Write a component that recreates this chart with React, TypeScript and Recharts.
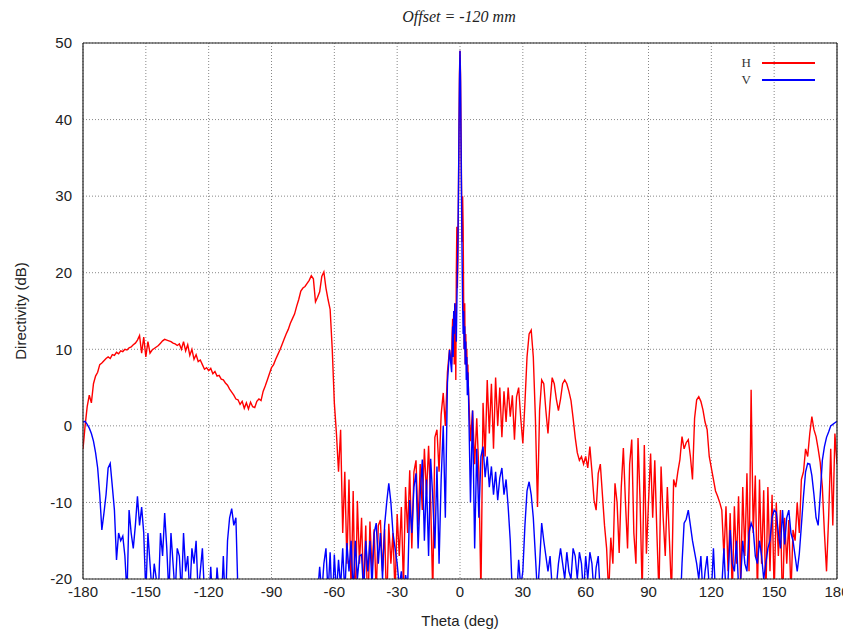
import React from 'react';
import { LineChart, Line, XAxis, YAxis, CartesianGrid, Legend } from 'recharts';

// ---------- data ----------
const range = (a: number, b: number) => {
  const out: number[] = [];
  for (let t = a; t <= b; t++) out.push(t);
  return out;
};
const THETA_LEFT = range(-180, -4);
const THETA_CENTER = [
  -3.75, -3.5, -3.25, -3, -2.75, -2.5, -2.25, -2, -1.75, -1.5, -1.25, -1, -0.75, -0.5, -0.25, 0,
  0.25, 0.5, 0.75, 1, 1.25, 1.5, 1.75, 2, 2.25, 2.5, 2.75, 3, 3.25, 3.5, 3.75,
];
const THETA_RIGHT = range(4, 180);

// H (red), theta -180..-4
const H_LEFT = [
  -3, 0, 2.5, 4, 3, 5.5, 6.5, 7, 8, 8.2,
  8.5, 8.8, 9, 8.8, 9.3, 9.2, 9.6, 9.4, 9.8, 9.7,
  10, 9.9, 10.2, 10.3, 10.6, 10.8, 11.2, 11.8, 9.5, 11.6,
  9, 11, 9.5, 9.9, 10.1, 10.3, 10.5, 10.8, 11.1, 11.3,
  11.2, 11.1, 11, 10.8, 10.7, 10.5, 10.7, 10, 11, 9.8,
  10.6, 9.2, 10, 8.7, 9.3, 8.4, 8.6, 8, 7.4, 7.6,
  7.2, 7.5, 6.8, 7.1, 6.5, 6.6, 6.1, 6, 5.6, 5.3,
  4.8, 4.4, 4, 3.5, 3.4, 2.8, 3.2, 2.3, 3, 2.2,
  3.1, 2.5, 2.4, 3.2, 3.5, 3.3, 4.5, 5.2, 6, 6.8,
  7.6, 8, 8.7, 9.3, 9.9, 10.6, 11.3, 12, 12.6, 13.4,
  14, 14.6, 15.6, 16.5, 17.6, 18, 18.2, 18.6, 19, 19.6,
  19.2, 16.2, 16.8, 17.5, 19.5, 20.1, 18, 16.5, 15.2, 10,
  3, -1, -6, -0.5, -14, -6, -18, -7, -22, -8.5,
  -25, -9.8, -18, -12, -22, -13, -25, -12.5, -19, -13.5,
  -22, -13, -12.3, -19, -13.5, -24, -12.8, -18, -14, -22,
  -11.5, -17, -10.6, -21, -8, -14, -5.8, -16, -6, -4.5,
  -13, -5, -11, -3, -9, -2.6, -10, -22, -1.5, -0.5,
  -6, 1.5, 4.3, 0, 7, 10, 8,
];
const H_CENTER = [
  12, 14, 10, 15, 8, 13, 16, 6, 20, 26, 18, 22, 30, 38, 46, 49,
  46, 38, 31, 24, 30, 26, 16, 10, 16, 8, 12, 9, 10, 6, 8,
];
// H (red), theta 4..180
const H_RIGHT = [
  5, -2, 2, -5, 1, -6, -22, 3, -4, 6,
  -1, 5.5, -3, 6.3, 0, 5, -1.5, 4.5, 0.5, 5,
  1.2, 4, -1.8, 3.8, 5, 1, -2.3, 3, 9, 12,
  12.5, 9, 1, -10.6, 2, 6, 5.5, 2, -1, 3,
  6.3, 5.5, 3.5, 2, 3.5, 5.5, 6, 5.5, 4.5, 3.3,
  1, -1.5, -3.5, -4.5, -4, -5, -4, -5.5, -2.7, -6,
  -9.7, -11, -6.2, -5, -9, -13, -16, -22, -14.6, -18,
  -7.5, -10, -16.6, -8, -2.9, -10, -16, -5, -1.8, -14,
  -18, -1.6, -10, -22, -2.5, -16.7, -10, -3.6, -12, -4.5,
  -14, -22, -5.3, -12, -17, -8, -15, -22, -7, -8,
  -6, -4.4, -1.4, -3, -2.2, -1.8, -4, -7, 1, 3.4,
  3.8, 3.2, 2.1, 0.5, -0.5, -4, -5.5, -7, -8.5, -9.2,
  -10, -11, -17, -10.5, -19, -11.4, -22, -10.5, -18, -9.2,
  -21, -8, -17, -6.2, -19, 4.7, -14, -6.5, -22, -7,
  -18, -8.4, -23, -8, -19, -9, -22, -10, -17, -11,
  -24, -12, -18, -12.3, -22, -13.6, -15, -10, -14, -7,
  -6, -3, -4, -1, 1.2, -0.5, -1.4, -3, -4.8, -8,
  -14, -19, -12, -3, -13, -1, -5,
];

// V (blue), theta -180..-4
const V_LEFT = [
  0.5, 0.6, 0.2, -0.3, -1, -2, -3.5, -5.5, -9, -13.6,
  -11.4, -9, -5.5, -4.9, -7.9, -11, -17.5, -14, -15, -14.4,
  -17, -22, -11, -14, -16, -13, -9.2, -13, -10.6, -14,
  -22, -14, -18, -22, -18, -20, -22, -14, -17, -11.4,
  -16, -22, -14, -18, -22, -16, -17, -22, -14, -19,
  -17, -22, -16, -18, -15, -22, -19, -16, -22, -21,
  -24, -18.4, -24, -24, -18.5, -22, -24, -17, -24, -15,
  -12, -10.8, -13, -12, -22, -25, -25, -25, -25, -25,
  -25, -25, -25, -25, -25, -25, -25, -25, -25, -25,
  -25, -25, -25, -25, -25, -25, -25, -25, -25, -25,
  -25, -25, -25, -25, -25, -25, -25, -25, -25, -25,
  -25, -25, -22, -18.4, -22, -18, -16, -22, -16.5, -24,
  -16.8, -22, -17.5, -21, -16, -22, -15.3, -19, -15, -22,
  -15, -20, -17, -16.8, -22, -15, -19, -15, -21, -14,
  -12.7, -18, -14, -20, -13, -10, -7.5, -10, -14, -16,
  -18, -21, -19, -22, -19.5, -21, -9.7, -14, -8, -6.2,
  -16, -9, -4.4, -15, -7, -17, -4.3, -9.5, -16, -5.3,
  -18, -7, 0, -12, 5.6, 9.9, 7,
];
const V_CENTER = [
  10, 13, 9, 15, 12, 16, 13, 14, 11, 16, 20, 24, 30, 38, 45, 49,
  45, 37, 29, 22, 16, 12, 15, 10, 13, 8, 11, 6, 9, 4, 7,
];
// V (blue), theta 4..180
const V_RIGHT = [
  5, -10, 2, -16, -3, -12, -4, -2.7, -6.7, -4,
  -8, -5.3, -9, -6, -9.7, -6.8, -5.5, -9, -7, -10.6,
  -15, -22, -20, -23, -17.5, -21, -19, -13, -8.5, -7.3,
  -9, -12, -17, -22, -18, -12.7, -15, -17, -19, -17,
  -21, -22, -21, -18, -16, -18, -20, -16.5, -19, -20,
  -16, -17, -20, -16.5, -18, -22, -17, -20, -16.5, -18,
  -22, -18.5, -17, -22, -25, -25, -25, -25, -25, -25,
  -25, -25, -25, -25, -25, -25, -25, -25, -25, -25,
  -25, -25, -25, -25, -25, -25, -25, -25, -25, -25,
  -25, -25, -25, -25, -25, -25, -25, -25, -25, -25,
  -25, -25, -18, -12.7, -12.2, -11, -13, -15, -16.5, -18,
  -20, -17, -22, -19, -17, -21, -22, -16, -22, -20,
  -25, -21, -16, -22, -20, -13.6, -18, -19, -15, -21,
  -20, -15, -18, -19, -14, -12.7, -13.5, -17, -18, -15,
  -17, -20, -18, -16, -15, -12, -11, -11.3, -14, -16,
  -11, -15.5, -12, -11, -14, -15, -17, -19, -16.7, -13,
  -9.2, -6, -4.9, -5, -6.5, -9, -12, -13, -9, -4.5,
  -2.7, -1.5, -0.8, 0, 0.2, 0.4, 0.6,
];

const X_TICKS = [-180, -150, -120, -90, -60, -30, 0, 30, 60, 90, 120, 150, 180];
const Y_TICKS = [-20, -10, 0, 10, 20, 30, 40, 50];
const TITLE = 'Offset = -120 mm';
const X_LABEL = 'Theta (deg)';
const Y_LABEL = 'Directivity (dB)';

const THETA = [...THETA_LEFT, ...THETA_CENTER, ...THETA_RIGHT];
const H = [...H_LEFT, ...H_CENTER, ...H_RIGHT];
const V = [...V_LEFT, ...V_CENTER, ...V_RIGHT];
const data = THETA.map((t, i) => ({ theta: t, H: H[i], V: V[i] }));

// ---------- styles ----------
const SANS = '"Liberation Sans", Arial, Helvetica, sans-serif';
const SERIF = '"Liberation Serif", "Times New Roman", serif';
const AXIS = '#222';
const W = 843;
const HGT = 623;

const renderLegend = (props: any) => {
  const payload = props.payload || [];
  return (
    <div style={{ fontFamily: SERIF, fontSize: 13, color: '#333' }}>
      {payload.map((p: any) => (
        <div key={p.value} style={{ display: 'flex', alignItems: 'center', height: 17 }}>
          <span style={{ width: 16, textAlign: 'right' }}>{p.value}</span>
          <span
            style={{
              display: 'inline-block',
              width: 53,
              height: 2,
              background: p.color,
              marginLeft: 11,
            }}
          />
        </div>
      ))}
    </div>
  );
};

export default function App() {
  return (
    <div style={{ position: 'relative', width: W, height: HGT, background: '#fff' }}>
      <div
        style={{
          position: 'absolute',
          left: 0,
          width: 902,
          top: 0,
          textAlign: 'center',
          fontFamily: SERIF,
          fontStyle: 'italic',
          fontSize: 16,
          color: '#222',
          lineHeight: '18px',
        }}
      >
        {TITLE}
      </div>
      <LineChart
        width={W}
        height={HGT}
        data={data}
        margin={{ top: 35, right: 14, bottom: 2, left: 5 }}
      >
        <CartesianGrid
          xAxisId="b"
          yAxisId="l"
          stroke="#888"
          strokeDasharray="1 2"
          verticalValues={X_TICKS}
          horizontalValues={Y_TICKS}
        />
        <XAxis
          xAxisId="b"
          dataKey="theta"
          type="number"
          domain={[-180, 180]}
          ticks={X_TICKS}
          allowDataOverflow
          interval={0}
          height={50}
          tickLine={false}
          tickSize={0}
          tickMargin={7}
          axisLine={{ stroke: AXIS, strokeWidth: 1.2 }}
          tick={{ fill: '#222', fontSize: 15, fontFamily: SANS }}
          label={{
            value: X_LABEL,
            position: 'insideBottom',
            offset: 3,
            style: { fill: '#222', fontSize: 15, fontFamily: SANS },
          }}
        />
        <XAxis
          xAxisId="bm"
          dataKey="theta"
          type="number"
          domain={[-180, 180]}
          ticks={X_TICKS}
          allowDataOverflow
          mirror
          height={30}
          tick={false}
          tickSize={9}
          tickLine={{ stroke: AXIS }}
          axisLine={false}
        />
        <XAxis
          xAxisId="tm"
          orientation="top"
          dataKey="theta"
          type="number"
          domain={[-180, 180]}
          ticks={X_TICKS}
          allowDataOverflow
          mirror
          height={30}
          tick={false}
          tickSize={9}
          tickLine={{ stroke: AXIS }}
          axisLine={{ stroke: AXIS, strokeWidth: 1.2 }}
        />
        <YAxis
          yAxisId="l"
          type="number"
          domain={[-20, 50]}
          ticks={Y_TICKS}
          allowDataOverflow
          interval={0}
          width={70}
          tickLine={false}
          tickSize={0}
          tickMargin={11}
          axisLine={{ stroke: AXIS, strokeWidth: 1.2 }}
          tick={{ fill: '#222', fontSize: 15, fontFamily: SANS }}
          label={{
            value: Y_LABEL,
            angle: -90,
            position: 'insideLeft',
            offset: 8,
            style: { fill: '#222', fontSize: 15, fontFamily: SANS, textAnchor: 'middle' },
          }}
        />
        <YAxis
          yAxisId="lm"
          type="number"
          domain={[-20, 50]}
          ticks={Y_TICKS}
          allowDataOverflow
          mirror
          width={30}
          tick={false}
          tickSize={9}
          tickLine={{ stroke: AXIS }}
          axisLine={false}
        />
        <YAxis
          yAxisId="rm"
          orientation="right"
          type="number"
          domain={[-20, 50]}
          ticks={Y_TICKS}
          allowDataOverflow
          mirror
          width={30}
          tick={false}
          tickSize={9}
          tickLine={{ stroke: AXIS }}
          axisLine={{ stroke: AXIS, strokeWidth: 1.2 }}
        />
        <Legend
          layout="vertical"
          align="center"
          verticalAlign="middle"
          content={renderLegend}
          wrapperStyle={{ position: 'absolute', left: 727, top: 46, width: 100 }}
        />
        <Line
          xAxisId="b"
          yAxisId="l"
          dataKey="H"
          name="H"
          type="linear"
          stroke="#ff0000"
          strokeWidth={1.4}
          dot={false}
          activeDot={false}
          isAnimationActive={false}
        />
        <Line
          xAxisId="b"
          yAxisId="l"
          dataKey="V"
          name="V"
          type="linear"
          stroke="#0000ff"
          strokeWidth={1.4}
          dot={false}
          activeDot={false}
          isAnimationActive={false}
        />
      </LineChart>
    </div>
  );
}
